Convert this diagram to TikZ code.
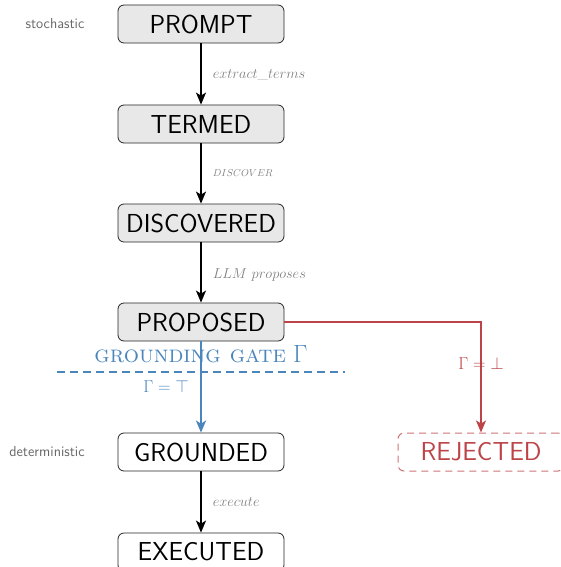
\documentclass[tikz,border=0pt]{standalone}
\usetikzlibrary{arrows.meta}
\definecolor{gatecol}{HTML}{4A86BC}
\definecolor{rejcol}{HTML}{BC4448}
\definecolor{lblcol}{HTML}{808080}
\definecolor{boxfill}{HTML}{E8E8E8}
\begin{document}
\begin{tikzpicture}[x=1pt,y=-1pt,
  state/.style={draw=black!85,line width=0.8pt,rounded corners=6pt,minimum width=166pt,minimum height=38pt,inner sep=0pt,font=\sffamily\fontsize{26}{30}\selectfont},
  soft/.style={state,fill=boxfill},
  hard/.style={state,fill=white},
  rej/.style={state,draw=rejcol!75,line width=1pt,dash pattern=on 7pt off 5pt,text=rejcol},
  flow/.style={line width=1.6pt,-{Stealth[length=12pt,width=10pt,inset=3pt]}},
  lbl/.style={text=lblcol,font=\fontsize{14}{16}\selectfont,anchor=west,inner sep=0pt},
  side/.style={text=black!60,font=\sffamily\fontsize{14.5}{17}\selectfont},
]
\useasboundingbox (0,0) rectangle (561,567);
\node[soft] (prompt) at (201,24) {PROMPT};
\node[soft] (termed) at (201,124) {TERMED};
\node[soft] (disc) at (201,223) {DISCOVERED};
\node[soft] (prop) at (201,322) {PROPOSED};
\node[hard] (ground) at (201,452) {GROUNDED};
\node[hard] (exec) at (201,552) {EXECUTED};
\node[rej] (rejected) at (481,452) {REJECTED};
\node[side] (stoch) at (55,24) {stochastic};
\node[side] (det) at (47,452) {deterministic};

\draw[flow] (prompt) -- node[lbl,pos=0.5,xshift=11pt,yshift=-1pt] (l1) {$extract\_terms$} (termed);
\draw[flow] (termed) -- node[lbl,pos=0.5,xshift=11pt,font=\fontsize{9.7}{12}\selectfont] (l2) {$DISCOVER$} (disc);
\draw[flow] (disc) -- node[lbl,pos=0.5,xshift=11pt,yshift=-2pt] (l3) {$LLM\ proposes$} (prop);
\draw[flow] (ground) -- node[lbl,pos=0.5,xshift=11pt] (l4) {$execute$} (exec);

\coordinate (gl) at (57,372);
\coordinate (gr) at (345,372);
\draw[gatecol,line width=2pt,dash pattern=on 8pt off 5pt] (gl) -- (gr);
\node[text=gatecol,font=\fontsize{24}{28}\selectfont] (gate) at (201,354) {\textsc{grounding gate} $\Gamma$};
\draw[gatecol,line width=2pt,-{Stealth[length=12pt,width=10pt,inset=3pt]}] (prop) -- (ground);
\node[text=gatecol,font=\fontsize{18}{20}\selectfont] (gtop) at (166,386) {$\Gamma=\top$};

\coordinate (corner) at (481,322);
\draw[rejcol,line width=1.6pt,-{Stealth[length=12pt,width=10pt,inset=3pt]}] (prop.east) -- (corner) -- (rejected.north);
\node[text=rejcol,font=\fontsize{18}{20}\selectfont] (gbot) at (481,363) {$\Gamma=\bot$};
\end{tikzpicture}
\end{document}
